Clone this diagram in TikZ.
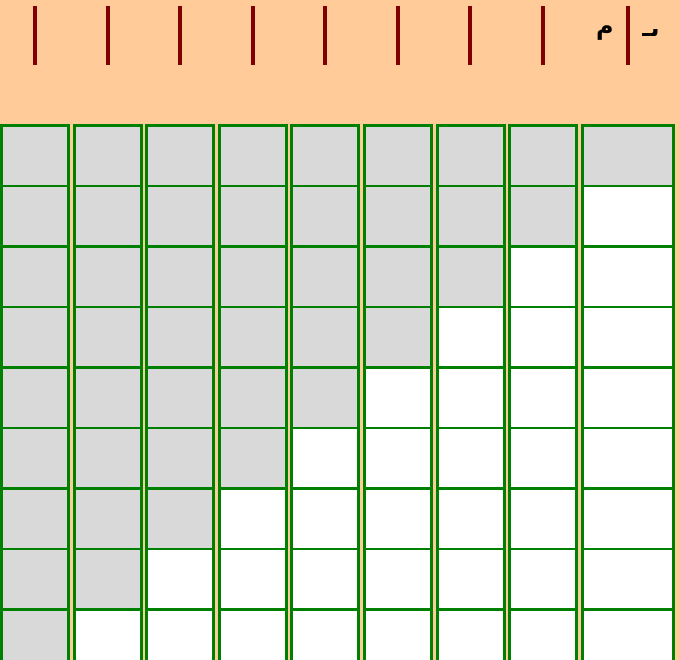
\documentclass[tikz,border=0pt]{standalone}
\usepackage{fontspec}
\newfontfamily\arabicfont[Script=Arabic]{DejaVu Sans}
\TeXXeTstate=1
\definecolor{peach}{HTML}{FFCC99}
\definecolor{cellgreen}{HTML}{008000}
\definecolor{cellgray}{HTML}{D9D9D9}
\definecolor{tickred}{HTML}{800000}

\begin{document}
\begin{tikzpicture}[x=0.025cm,y=-0.025cm,
    tick/.style={tickred,line width=2.8pt},
    cell/.style={cellgreen,line width=2.1pt},
    arlabel/.style={font=\arabicfont\bfseries\fontsize{17}{19}\selectfont,inner sep=0pt}]
  \useasboundingbox (0,0) rectangle (680,660);
  \fill[peach] (0,0) rectangle (680,660);
  \clip (0,0) rectangle (680,660);
  % markers above the columns
  \foreach \x in {35,108,180,253,325,398,470,543,628}
    \draw[tick] (\x,6) -- (\x,65);
  \node[arlabel] (meem) at (605,33) {\beginR م\endR};
  \node[arlabel] (beh) at (651,33) {\beginR ٮـ\endR};
  % staircase of cells
  \foreach \c in {0,...,8}{
    \pgfmathsetmacro{\xa}{1.5+72.6*\c}
    \pgfmathsetmacro{\xb}{\c<8 ? \xa+67 : 673.5}
    \foreach \r in {0,...,8}{
      \pgfmathsetmacro{\ya}{125.5+60.5*\r}
      \pgfmathtruncatemacro{\shade}{\r+\c<9}
      \ifnum\shade=1 \def\cellfill{cellgray}\else\def\cellfill{white}\fi
      \draw[cell,fill=\cellfill] (\xa,\ya) rectangle (\xb,\ya+60.5);
    }
  }
\end{tikzpicture}
\end{document}
